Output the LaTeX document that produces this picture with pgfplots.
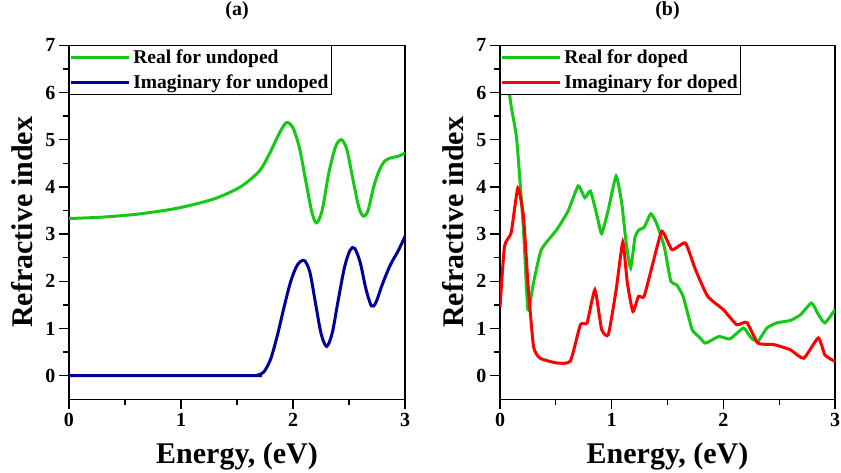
\documentclass[border=0pt]{standalone}
\usepackage{pgfplots}
\pgfplotsset{compat=1.18}
\usepackage{fontspec}
\setmainfont{Liberation Serif}
\definecolor{cgreen}{RGB}{20,200,20}
\definecolor{cblue}{RGB}{0,0,155}
\definecolor{cred}{RGB}{255,0,0}
\pgfplotsset{
  myax/.style={
    scale only axis, width=336pt, height=354pt,
    xmin=0, xmax=3, ymin=-0.5, ymax=7,
    xtick={0,1,2,3}, ytick={0,1,2,3,4,5,6,7},
    minor x tick num=1, minor y tick num=1,
    tick align=outside, xtick pos=left, ytick pos=left,
    major tick length=10pt, minor tick length=6pt,
    axis line style={line width=1.3pt},
    every tick/.style={line width=1.3pt, black},
    /pgf/number format/assume math mode=true,
    tick label style={font=\bfseries\fontsize{20}{20}\selectfont},
    xticklabel style={inner xsep=0pt},
    xlabel={Energy, (eV)}, ylabel={Refractive index},
    label style={font=\bfseries\fontsize{30}{30}\selectfont},
    xlabel style={at={(axis description cs:0.5,-0.161)}, anchor=center},
    ylabel style={at={(axis description cs:-0.14,0.5)}, anchor=center},
    title style={font=\bfseries\fontsize{20}{20}\selectfont,
      at={(axis description cs:0.5,1.081)}, anchor=center},
    legend style={at={(0,1)}, anchor=north west, draw=black, line width=0.8pt,
      font=\bfseries\fontsize{19.5}{20}\selectfont, inner xsep=0.5pt, inner ysep=3pt,
      row sep=8pt, cells={anchor=west}, nodes={inner xsep=2.5pt, inner ysep=1pt}},
    legend image code/.code={\draw[#1, line width=3pt] (0pt,0pt) -- (58pt,0pt);},
  }
}
\begin{document}
\begin{tikzpicture}
\useasboundingbox (-69pt,399.3pt) rectangle (772pt,-72.7pt);
\begin{axis}[myax, title={(a)}]
\addplot[cgreen, line width=3pt, smooth] coordinates {
(0,3.33) (0.3,3.36) (0.6,3.42) (0.9,3.52) (1.1,3.62) (1.3,3.75) (1.45,3.90)
(1.55,4.03) (1.65,4.22) (1.72,4.40) (1.80,4.75) (1.87,5.10) (1.94,5.36)
(2.00,5.25) (2.06,4.80) (2.12,4.05) (2.17,3.45) (2.21,3.24) (2.26,3.50)
(2.32,4.30) (2.38,4.85) (2.43,5.00) (2.48,4.80) (2.54,4.10) (2.59,3.55)
(2.63,3.38) (2.67,3.50) (2.72,4.00) (2.77,4.35) (2.82,4.55) (2.88,4.62)
(2.94,4.65) (3.00,4.72)};
\addlegendentry{Real for undoped}
\addplot[cblue, line width=3pt, smooth] coordinates {
(0,0) (1.6,0) (1.68,0.01) (1.74,0.08) (1.80,0.35) (1.86,0.85) (1.92,1.45)
(1.98,2.00) (2.04,2.35) (2.10,2.44) (2.15,2.20) (2.20,1.55) (2.25,0.90)
(2.30,0.62) (2.35,0.90) (2.40,1.55) (2.46,2.30) (2.51,2.66) (2.55,2.70)
(2.60,2.40) (2.65,1.85) (2.70,1.48) (2.74,1.55) (2.80,1.95) (2.87,2.35)
(2.94,2.65) (3.00,2.95)};
\addlegendentry{Imaginary for undoped}
\end{axis}
\begin{axis}[myax, width=335pt, xshift=431pt, title={(b)}]
\addplot[cgreen, line width=3pt, smooth, tension=0.3] coordinates {
(0,7.3) (0.05,6.6) (0.10,5.71) (0.15,5.0) (0.21,3.10) (0.25,1.40) (0.30,1.97)
(0.37,2.67) (0.51,3.10) (0.61,3.49) (0.70,4.02) (0.76,3.77) (0.81,3.91)
(0.87,3.38) (0.91,3.01) (0.97,3.52) (1.04,4.23) (1.09,3.66) (1.13,2.81)
(1.17,2.28) (1.21,2.95) (1.25,3.10) (1.29,3.14) (1.35,3.43) (1.40,3.24)
(1.47,2.74) (1.53,2.00) (1.58,1.93) (1.64,1.68) (1.72,0.98) (1.78,0.83)
(1.84,0.69) (1.96,0.83) (2.06,0.78) (2.18,1.01) (2.25,0.80) (2.31,0.73)
(2.39,1.01) (2.48,1.12) (2.60,1.17) (2.69,1.29) (2.79,1.54) (2.85,1.30)
(2.91,1.12) (3.00,1.40)};
\addlegendentry{Real for doped}
\addplot[cred, line width=3pt, smooth, tension=0.3] coordinates {
(0.0,1.45) (0.04,2.74) (0.10,3.03) (0.16,3.98) (0.21,3.38) (0.25,1.97)
(0.30,0.62) (0.36,0.37) (0.51,0.27) (0.63,0.31) (0.72,1.08) (0.78,1.12)
(0.85,1.82) (0.91,0.98) (0.97,0.87) (1.04,1.82) (1.10,2.83) (1.14,1.97)
(1.19,1.36) (1.24,1.68) (1.29,1.68) (1.37,2.39) (1.45,3.06) (1.54,2.67)
(1.66,2.81) (1.75,2.25) (1.86,1.68) (2.00,1.40) (2.12,1.08) (2.21,1.13)
(2.31,0.69) (2.45,0.66) (2.60,0.55) (2.72,0.37) (2.85,0.80) (2.91,0.44)
(3.00,0.30)};
\addlegendentry{Imaginary for doped}
\end{axis}
\end{tikzpicture}
\end{document}
